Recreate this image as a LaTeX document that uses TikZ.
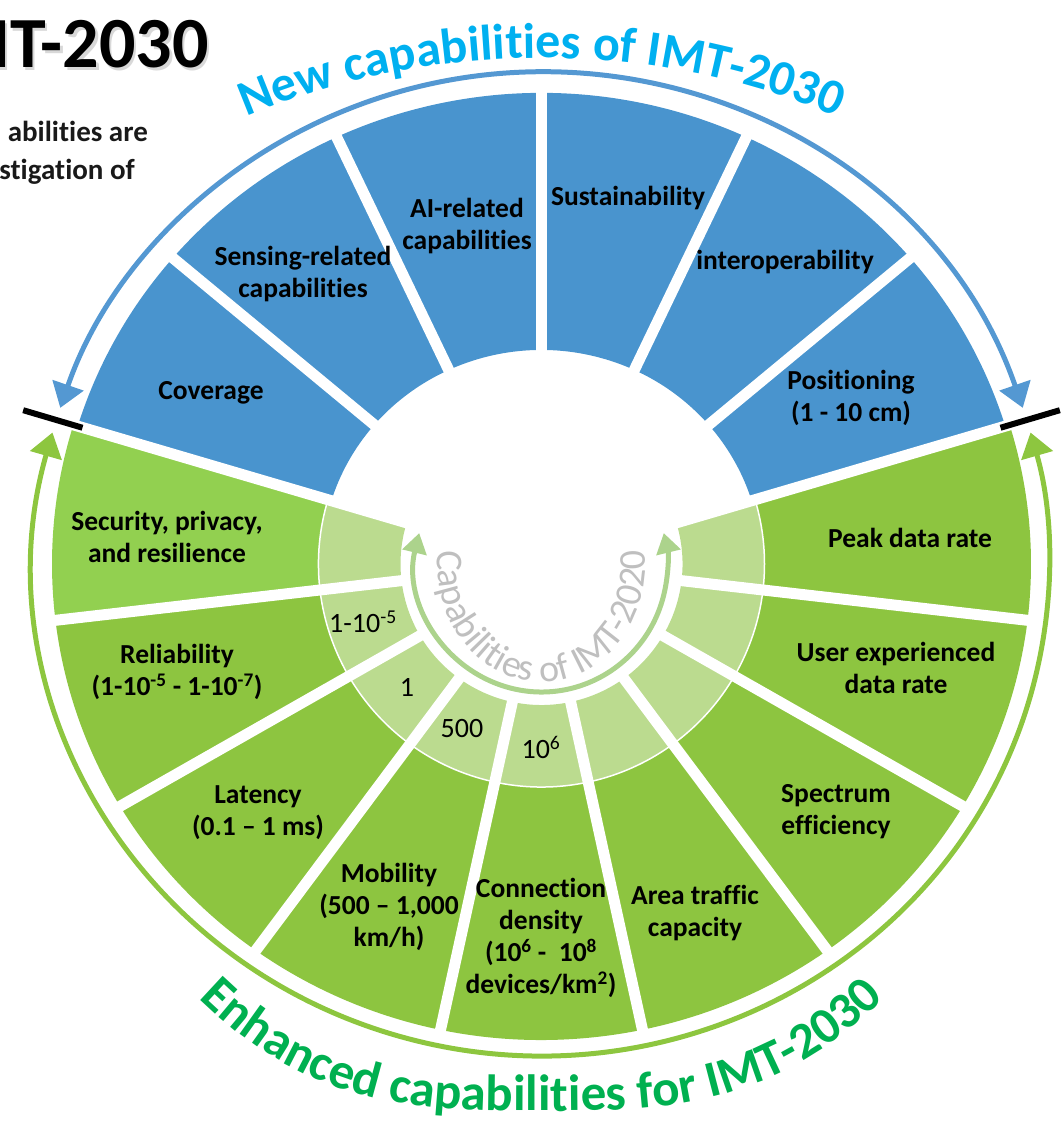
\documentclass[tikz,border=0pt]{standalone}
\usepackage{fontspec}
\setmainfont{Carlito}[Ligatures={NoCommon,NoContextual},Contextuals=NoAlternate]
\usetikzlibrary{arrows.meta,decorations.text}
\definecolor{secblue}{RGB}{73,148,206}
\definecolor{arcblue}{RGB}{84,152,210}
\definecolor{txtblue}{RGB}{0,176,240}
\definecolor{secgreen}{RGB}{141,197,64}
\definecolor{secgreenL}{RGB}{146,208,80}
\definecolor{ringgreen}{RGB}{187,219,143}
\definecolor{arcgreen}{RGB}{141,198,63}
\definecolor{innerarrow}{RGB}{172,211,140}
\definecolor{txtgreen}{RGB}{0,176,80}
\definecolor{txtgray}{RGB}{191,191,191}
% annular sector: colour, a1, a2, outer rx, outer ry, inner rx, inner ry
\newcommand\annsec[7]{%
  \fill[#1] (#2:#4 and #5) arc[start angle=#2, end angle=#3, x radius=#4, y radius=#5]
    -- (#3:#6 and #7) arc[start angle=#3, end angle=#2, x radius=#6, y radius=#7] -- cycle;}
\begin{document}
\begin{tikzpicture}[x=1pt,y=1pt,
  lbl/.style={align=center, font=\fontsize{27.5}{32}\selectfont\bfseries, text=black, inner sep=0pt},
  num/.style={font=\fontsize{28}{32}\selectfont, text=black, inner sep=0pt},
  gapline/.style={white, line width=11pt},
  ringline/.style={white, line width=1.5pt},
  tickline/.style={black, line width=6pt},
  bigarrow/.style={line width=5pt, {Triangle[width=32pt,length=24pt]}-{Triangle[width=32pt,length=24pt]}},
  smallarrow/.style={line width=5pt, {Triangle[width=24pt,length=20pt]}-{Triangle[width=24pt,length=20pt]}},
  sidetext/.style={anchor=base east, font=\fontsize{29}{34}\selectfont\bfseries, inner sep=0pt, text=black!90},
  titletext/.style={anchor=base east, font=\fontsize{72}{76}\selectfont\bfseries, inner sep=0pt}
]
\useasboundingbox (0,0) rectangle (1064,1124);
\clip (0,0) rectangle (1064,1124);

% title and side text
\node[titletext, text=black!30, opacity=0.5] (titleshadow) at (211.5,1053.5) {IMT-2030};
\node[titletext] (title) at (209,1056) {IMT-2030};
\node[sidetext] (side1) at (148,982) {abilities are};
\node[sidetext] (side2) at (135,944) {stigation of};

\begin{scope}[shift={(541.5,560)}]
  % blue sectors
  \annsec{secblue}{17}{163}{485}{471}{220}{214}
  % green sectors (dark part)
  \annsec{secgreenL}{163}{186.8}{489.5}{476}{223}{223}
  \annsec{secgreen}{186.8}{377}{489.5}{476}{223}{223}
  % light inner ring
  \annsec{ringgreen}{163}{377}{223}{223}{141}{141}
  \draw[ringline] (163:223 and 223) arc[start angle=163, end angle=377, radius=223];
  % gaps
  \foreach \a in {40.5,65,90,115,139.5}
    \draw[gapline] (\a:200 and 195) -- (\a:497 and 483);
  \foreach \a in {17,163,186.8,210.6,234.3,258.1,281.9,305.7,329.4,353.2}
    \draw[gapline] (\a:133 and 133) -- (\a:498 and 484);
  % outer arrows
  \draw[arcblue, bigarrow] (18.5:507.5 and 492) arc[start angle=18.5, end angle=161.5, x radius=507.5, y radius=492];
  \draw[arcgreen, bigarrow] (164.5:507.5 and 492) arc[start angle=164.5, end angle=375.5, x radius=507.5, y radius=492];
  % ticks
  \coordinate (tl1) at (163:480 and 466);
  \coordinate (tl2) at (163:542 and 526);
  \coordinate (tr1) at (17:480 and 466);
  \coordinate (tr2) at (17:542 and 526);
  \draw[tickline] (tl1) -- (tl2);
  \draw[tickline] (tr1) -- (tr2);
  % inner arrow
  \draw[innerarrow, smallarrow] (166:126 and 128) arc[start angle=166, end angle=374, x radius=126, y radius=128];
  % curved texts
  \path[decorate, decoration={text along path, text align=center, text color=txtblue,
      text={|\fontsize{50}{60}\selectfont\bfseries|New capabilities of IMT-2030}}]
    (160:630 and 506) arc[start angle=160, end angle=20, x radius=630, y radius=506];
  \path[decorate, decoration={text along path, text align=center, text color=txtgray,
      text={|\fontsize{38}{44}\selectfont|Capabilities of IMT-2020}}]
    (150:104 and 118) arc[start angle=150, end angle=390, x radius=104, y radius=118];
\end{scope}
\path[decorate, decoration={text along path, text align=center, text color=txtgreen,
    text={|\fontsize{51}{60}\selectfont\bfseries|Enhanced capabilities for IMT-2030}}]
  plot[domain=-470:470, samples=236] ({541.5+\x}, {13+108*(abs(\x)/338)^3});

% sector labels
\node[lbl] (cov) at (211,731) {Coverage};
\node[lbl] (sens) at (303,850) {Sensing-related\\capabilities};
\node[lbl] (ai) at (467,898) {AI-related\\capabilities};
\node[lbl] (sust) at (628,926) {Sustainability};
\node[lbl] (interop) at (785,862) {interoperability};
\node[lbl] (pos) at (851,726) {Positioning\\(1 - 10 cm)};
\node[lbl] (sec) at (167,587) {Security, privacy,\\and resilience};
\node[lbl] (rel) at (177,452) {Reliability\\(1-10\textsuperscript{-5} - 1-10\textsuperscript{-7})};
\node[lbl] (lat) at (258,311) {Latency\\(0.1 – 1 ms)};
\node[lbl] (mob) at (389,217) {Mobility\\(500 – 1,000\\km/h)};
\node[lbl] (conn) at (541,186) {Connection\\density\\(10\textsuperscript{6} -\ \ 10\textsuperscript{8}\\devices/km\textsuperscript{2})};
\node[lbl] (area) at (695,211) {Area traffic\\capacity};
\node[lbl] (spec) at (836,312) {Spectrum\\efficiency};
\node[lbl] (user) at (896,456) {User experienced\\data rate};
\node[lbl] (peak) at (910,586) {Peak data rate};

% light ring values
\node[num] (v1) at (363,502) {1-10\textsuperscript{-5}};
\node[num] (v2) at (407,437) {1};
\node[num] (v3) at (462,395) {500};
\node[num] (v4) at (541,377) {10\textsuperscript{6}};
\end{tikzpicture}
\end{document}
